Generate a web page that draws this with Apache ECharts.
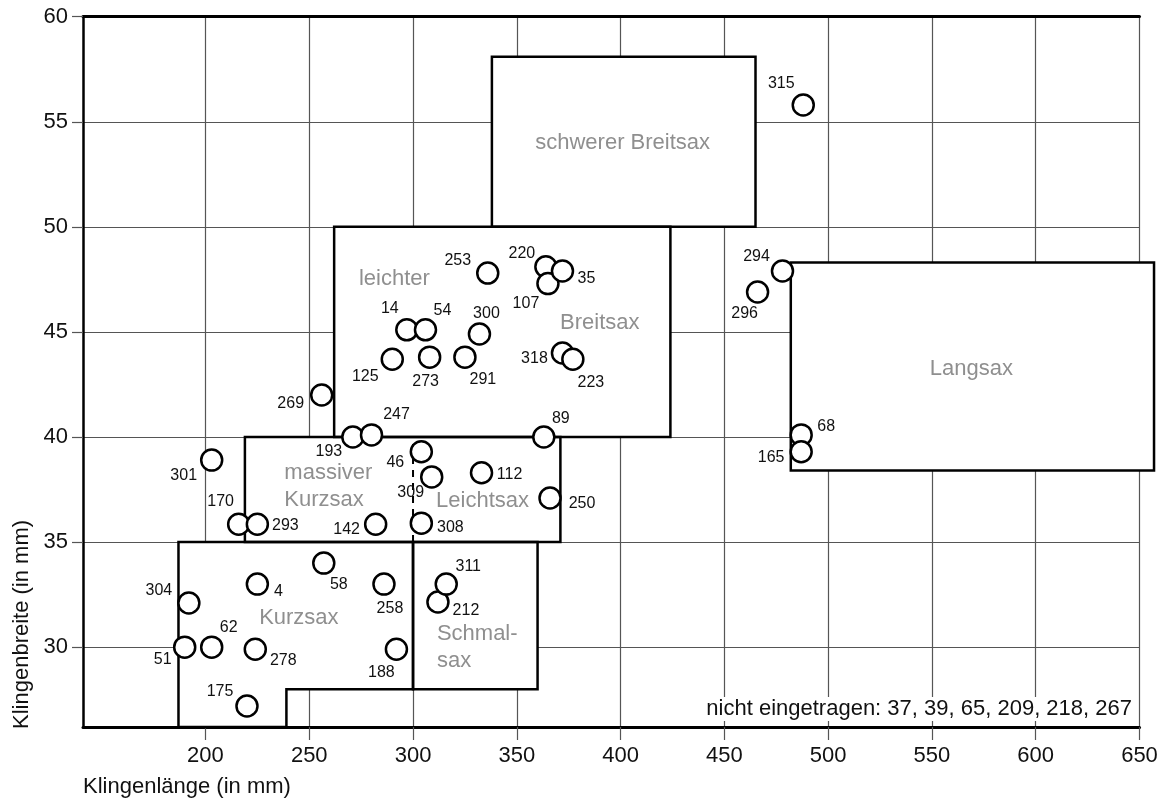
<!DOCTYPE html>
<html>
<head>
<meta charset="utf-8">
<title>Saxe: Klingenlänge / Klingenbreite</title>
<script src="https://cdn.jsdelivr.net/npm/echarts@6/dist/echarts.min.js"></script>
<style>
  html, body { margin: 0; padding: 0; background: #fff; }
  #chart { width: 1162px; height: 803px; }
</style>
</head>
<body>
<div id="chart"></div>
<script>
// grave numbers, blade length (mm) and blade width (mm)
// (drawing order matters: a later circle covers an earlier one)
const graveIds = [315, 294, 296, 68, 165, 253, 220, 107, 35, 14, 54, 300, 125, 273, 291, 318, 223,
  269, 193, 247, 89, 301, 46, 309, 112, 250, 170, 293, 142, 308, 58, 4, 258, 304, 212, 311,
  51, 62, 278, 188, 175]
const bladeLength = [488, 478, 466, 487, 487, 336, 364, 365, 372, 297, 306, 332, 290, 308, 325, 372, 377,
  256, 271, 280, 363, 203, 304, 309, 333, 366, 216, 225, 282, 304, 257, 225, 286, 192, 312, 316,
  190, 203, 224, 292, 220]
const bladeWidth = [55.8, 47.9, 46.9, 40.1, 39.3, 47.8, 48.1, 47.3, 47.9, 45.1, 45.1, 44.9, 43.7, 43.8, 43.8, 44.0, 43.7,
  42.0, 40.0, 40.1, 40.0, 38.9, 39.3, 38.1, 38.3, 37.1, 35.85, 35.85, 35.85, 35.9, 34.0, 33.0, 33.0, 32.1, 32.15, 33.0,
  30.0, 30.0, 29.9, 29.9, 27.2]
const notPlotted = [37, 39, 65, 209, 218, 267]

const xTicks = [200, 250, 300, 350, 400, 450, 500, 550, 600, 650]
const yTicks = [30, 35, 40, 45, 50, 55, 60]
const X_MIN = 141
const X_MAX = 650
const Y_MIN = 26.2
const Y_MAX = 60

// type fields (corner points, mm)
const boxSchwererBreitsax = [[338, 50], [465, 50], [465, 58.1], [338, 58.1]]
const boxLeichterBreitsax = [[262, 40], [424, 40], [424, 50], [262, 50]]
const boxMassivLeicht = [[219, 35], [371, 35], [371, 40], [219, 40]]
const boxKurzsax = [[187, Y_MIN], [239, Y_MIN], [239, 28], [300, 28], [300, 35], [187, 35]]
const boxSchmalsax = [[300, 28], [360, 28], [360, 35], [300, 35]]
const boxLangsax = [[482, 38.4], [657, 38.4], [657, 48.3], [482, 48.3]]
const dividerLeichtsax = [[300, 35], [300, 40]]

const boxLabels = [
  ['schwerer Breitsax', 401, 54.0],
  ['leichter', 291, 47.5],
  ['Breitsax', 390, 45.45],
  ['massiver\nKurzsax', 238, 37.63],
  ['Leichtsax', 333.5, 36.95],
  ['Kurzsax', 245, 31.4],
  ['Schmal-\nsax', 311.5, 30.0],
  ['Langsax', 569, 43.25],
]

// where each number sits relative to its circle (px)
const labelOffset = {
  315: [-22, -21], 294: [-26, -14], 296: [-13, 22], 68: [25, -8], 165: [-30, 6],
  253: [-30, -12], 220: [-24, -13], 107: [-22, 20], 35: [24, 8], 14: [-17, -21], 54: [17, -19],
  300: [7, -20], 125: [-27, 17], 273: [-4, 24], 291: [18, 22], 318: [-28, 6], 223: [18, 23],
  269: [-31, 9], 193: [-24, 15], 247: [25, -20], 89: [17, -18], 301: [-28, 15], 46: [-26, 11],
  309: [-21, 16], 112: [28, 2], 250: [32, 6], 170: [-18, -23], 293: [28, 1], 142: [-29, 5],
  308: [29, 4], 58: [15, 22], 4: [21, 7], 258: [6, 24], 304: [-30, -12], 212: [28, 9],
  311: [22, -18], 51: [-22, 12], 62: [17, -20], 278: [28, 11], 188: [-15, 23], 175: [-27, -14],
}

const boxes = [boxSchwererBreitsax, boxLeichterBreitsax, boxMassivLeicht, boxKurzsax, boxSchmalsax, boxLangsax]

const FONT = 'Liberation Sans, Arial, sans-serif'
const gridColor = '#555'

const chart = echarts.init(document.getElementById('chart'), null, { renderer: 'canvas' })

function boxRenderer(fill) {
  return function (params, api) {
    const pts = boxes[params.dataIndex].map(p => api.coord(p))
    return {
      type: 'polygon',
      shape: { points: pts },
      style: fill
        ? { fill: '#fff', stroke: null }
        : { fill: null, stroke: '#000', lineWidth: 2.5, lineJoin: 'miter' },
    }
  }
}

const option = {
  animation: false,
  backgroundColor: '#fff',
  textStyle: { fontFamily: FONT },
  grid: { left: 83, right: 22.5, top: 16.7, bottom: 76, containLabel: false },
  xAxis: [
    {
      type: 'value',
      min: X_MIN,
      max: X_MAX,
      axisLine: { show: true, onZero: false, lineStyle: { color: '#000', width: 3 } },
      axisTick: { show: true, customValues: xTicks, length: 13, lineStyle: { color: gridColor, width: 1.2 } },
      axisLabel: { customValues: xTicks, margin: 18, fontSize: 22, color: '#111', fontFamily: FONT },
      splitLine: { show: true, lineStyle: { color: gridColor, width: 1.2 } },
    },
    {
      type: 'value',
      position: 'top',
      min: X_MIN,
      max: X_MAX,
      axisLine: { show: true, onZero: false, lineStyle: { color: '#000', width: 3 } },
      axisTick: { show: false },
      axisLabel: { show: false },
      splitLine: { show: false },
    },
  ],
  yAxis: {
    type: 'value',
    min: Y_MIN,
    max: Y_MAX,
    axisLine: { show: true, onZero: false, lineStyle: { color: '#000', width: 2.5 } },
    axisTick: { show: true, customValues: yTicks, length: 11, lineStyle: { color: gridColor, width: 1.2 } },
    axisLabel: { customValues: yTicks, margin: 15, fontSize: 22, color: '#111', fontFamily: FONT },
    splitLine: { show: true, lineStyle: { color: gridColor, width: 1.2 } },
  },
  series: [
    {
      type: 'custom',
      z: 2,
      silent: true,
      renderItem: boxRenderer(true),
      data: boxes.map(b => b[0]),
    },
    {
      type: 'custom',
      z: 3,
      silent: true,
      renderItem: boxRenderer(false),
      data: boxes.map(b => b[0]),
    },
    {
      type: 'custom',
      z: 3,
      silent: true,
      renderItem: function (params, api) {
        const a = api.coord(dividerLeichtsax[0])
        const b = api.coord(dividerLeichtsax[1])
        return {
          type: 'line',
          shape: { x1: a[0], y1: a[1], x2: b[0], y2: b[1] },
          style: { stroke: '#000', lineWidth: 2, lineDash: [7, 6] },
        }
      },
      data: [dividerLeichtsax[0]],
    },
    {
      type: 'custom',
      z: 4,
      silent: true,
      renderItem: function (params, api) {
        const lbl = boxLabels[params.dataIndex]
        const p = api.coord([lbl[1], lbl[2]])
        const multi = lbl[0].indexOf('\n') >= 0
        return {
          type: 'text',
          x: p[0],
          y: p[1],
          style: {
            text: lbl[0],
            fill: '#8f8f8f',
            fontSize: 22,
            fontFamily: FONT,
            lineHeight: 27,
            align: multi ? 'left' : 'center',
            verticalAlign: 'middle',
          },
        }
      },
      data: boxLabels.map(l => [l[1], l[2]]),
    },
    {
      type: 'scatter',
      z: 5,
      symbol: 'circle',
      symbolSize: 21,
      itemStyle: { color: '#fff', borderColor: '#000', borderWidth: 2.5, opacity: 1 },
      label: {
        show: true,
        position: 'inside',
        formatter: '{b}',
        fontSize: 16,
        color: '#111',
        fontFamily: FONT,
      },
      emphasis: { disabled: true },
      data: graveIds.map((id, i) => ({
        name: String(id),
        value: [bladeLength[i], bladeWidth[i]],
        label: { offset: labelOffset[id] || [0, 0] },
      })),
    },
  ],
  graphic: [
    {
      type: 'text',
      right: 28,
      top: 697,
      z: 10,
      style: {
        text: 'nicht eingetragen: ' + notPlotted.join(', '),
        fontSize: 22,
        fontFamily: FONT,
        fill: '#111',
        backgroundColor: '#fff',
        padding: [1, 2, 1, 4],
      },
    },
    {
      type: 'text',
      left: 83,
      top: 776,
      style: {
        text: 'Klingenlänge (in mm)',
        fontSize: 22,
        fontFamily: FONT,
        fill: '#111',
      },
    },
    {
      type: 'text',
      x: 22,
      y: 729,
      rotation: Math.PI / 2,
      style: {
        text: 'Klingenbreite (in mm)',
        fontSize: 22,
        fontFamily: FONT,
        fill: '#111',
        align: 'left',
        verticalAlign: 'middle',
      },
    },
  ],
}

chart.setOption(option)
window.addEventListener('resize', () => chart.resize())
</script>
</body>
</html>
